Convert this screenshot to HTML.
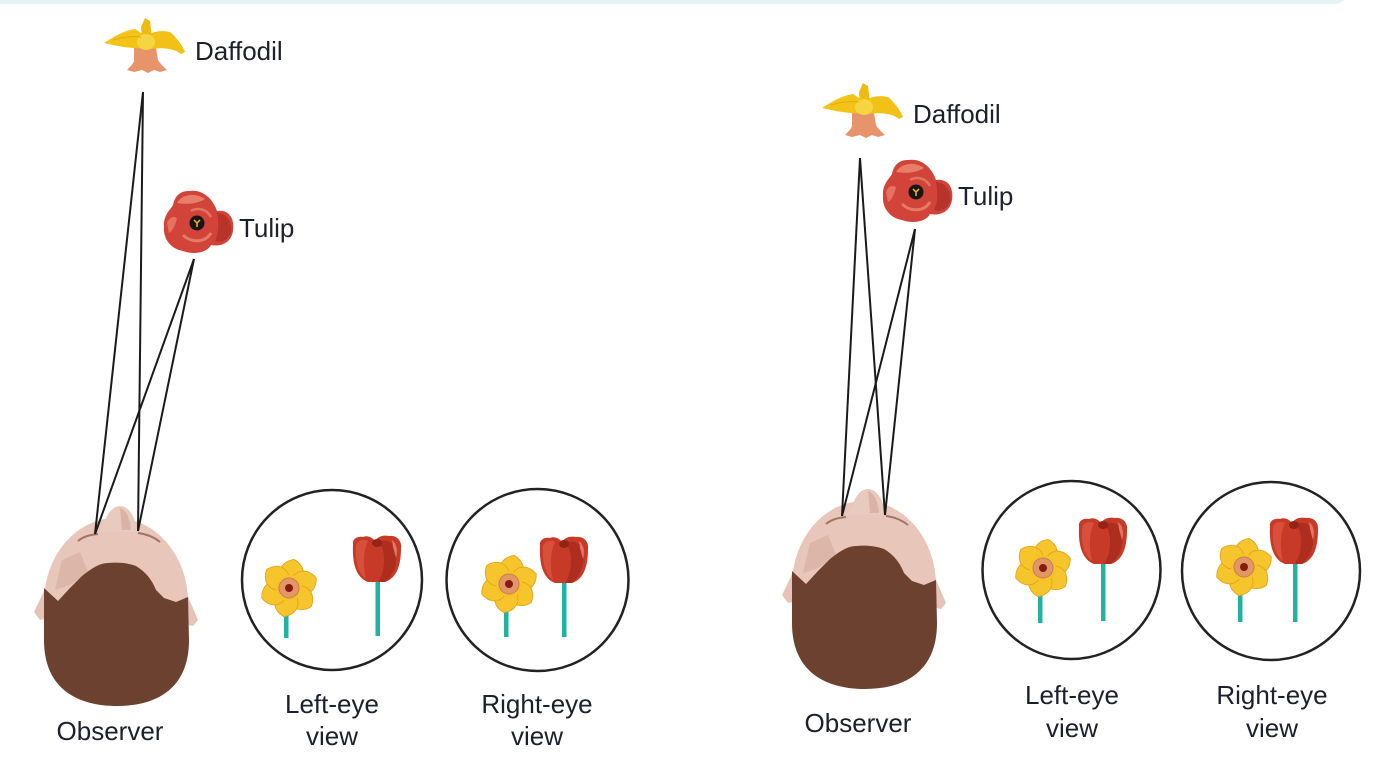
<!DOCTYPE html>
<html>
<head>
<meta charset="utf-8">
<style>
  html,body{margin:0;padding:0;background:#fff;}
  svg{display:block;}
  text{font-family:"Liberation Sans", sans-serif; fill:#1e1f2c; font-size:26px;}
</style>
</head>
<body>
<svg width="1388" height="757" viewBox="0 0 1388 757" xmlns="http://www.w3.org/2000/svg">
  <defs>
    <g id="head">
      <path d="M47 585 L34 612 L40 620 L50 618 Z" fill="#e6c3b6"/>
      <path d="M186 592 L198 620 L193 626 L184 624 Z" fill="#e6c3b6"/>
      <ellipse cx="116" cy="602" rx="72" ry="84" fill="#e8c6b9"/>
      <path d="M120 506 C127 506 133 513 136 524 L140 532 L100 532 L104 524 C107 513 113 506 120 506 Z" fill="#e9cabe"/>
      <path d="M120 508 C126 510 130 518 131 530 L122 530 Z" fill="#d9b3a5"/>
      <path d="M62 560 L80 552 L88 572 L70 585 L55 590 Z" fill="#dcb6a8"/>
      <path d="M78 541 C84 536 90 535 98 534" stroke="#a07566" stroke-width="2" fill="none"/>
      <path d="M138 533 C146 534 154 537 160 542" stroke="#a07566" stroke-width="2" fill="none"/>
      <path d="M44 588 L58 601 L70 588 L82 576 C92 568 100 563 108 563 C118 562 128 563 136 566 C146 572 152 580 156 590 L164 598 L176 602 L188 597 L189 640 C189 690 155 706 117 706 C79 706 44 690 44 640 Z" fill="#6c4130"/>
    </g>

    <g id="dafF">
      <g fill="#f6c52b" stroke="#e3a41b" stroke-width="0.9">
        <path d="M0 0 C-16 -8 -15 -24 0 -29 C15 -24 16 -8 0 0 Z" transform="rotate(10)"/>
        <path d="M0 0 C-16 -8 -15 -24 0 -29 C15 -24 16 -8 0 0 Z" transform="rotate(70)"/>
        <path d="M0 0 C-16 -8 -15 -24 0 -29 C15 -24 16 -8 0 0 Z" transform="rotate(130)"/>
        <path d="M0 0 C-16 -8 -15 -24 0 -29 C15 -24 16 -8 0 0 Z" transform="rotate(190)"/>
        <path d="M0 0 C-16 -8 -15 -24 0 -29 C15 -24 16 -8 0 0 Z" transform="rotate(250)"/>
        <path d="M0 0 C-16 -8 -15 -24 0 -29 C15 -24 16 -8 0 0 Z" transform="rotate(310)"/>
      </g>
      <circle cx="0" cy="0" r="13" fill="#f4c22a"/>
      <circle cx="0" cy="0" r="10" fill="#e29766" stroke="#cf7c4b" stroke-width="1"/>
      <circle cx="0" cy="0" r="4" fill="#861b0f"/>
    </g>

    <g id="tulF">
      <path d="M3 10 C2 4 7 1 13 2 C17 0 22 2 25 6 C28 1 34 0 39 1 C46 0 52 5 51 13 C51 30 47 43 35 47 L18 47 C7 43 2 30 3 10 Z" fill="#c83a28"/>
      <path d="M26 7 C34 4 44 6 46 14 C48 28 44 40 35 47 L28 47 C34 38 36 24 32 12 Z" fill="#ad2e1f"/>
      <path d="M6 10 C8 5 14 4 18 6 C14 14 12 28 16 44 C8 38 5 26 6 10 Z" fill="#d9503a"/>
      <ellipse cx="27" cy="8" rx="5" ry="4" fill="#962416"/>
      <path d="M42 5 C47 9 48 16 46 23 L43 12 Z" fill="#e27563"/>
    </g>

    <g id="tulT">
      <path d="M-8 -32 C6 -34 16 -24 20 -12 C32 -14 38 -4 36 8 C34 20 24 24 14 22 C10 30 -4 32 -14 28 C-26 26 -34 16 -33 4 C-34 -8 -26 -14 -24 -18 C-22 -28 -16 -32 -8 -32 Z" fill="#d2443a"/>
      <path d="M-20 -20 C-14 -30 0 -30 8 -24 C2 -20 -8 -18 -20 -20 Z" fill="#e77e6a"/>
      <path d="M-30 0 C-28 -6 -22 -8 -20 -4 C-22 2 -24 8 -28 10 Z" fill="#e3735f"/>
      <path d="M-14 12 C-6 20 8 20 14 10" stroke="#e57b66" stroke-width="3" fill="none"/>
      <path d="M20 -10 C30 -10 36 0 34 10 C30 18 24 20 18 18 C22 10 22 0 20 -10 Z" fill="#b8332a"/>
      <path d="M-6 -12 C0 -16 10 -14 14 -6" stroke="#e27462" stroke-width="2.5" fill="none"/>
      <circle cx="0" cy="0" r="7.5" fill="#1b1414"/>
      <path d="M0 0 L-3 -3 M0 0 L3 -3 M0 0 L0 4" stroke="#e8c020" stroke-width="1.5"/>
    </g>

    <g id="dafT">
      <path d="M29 30 L51 30 L53 42 C56 47 60 50 62 52 L55 54 L49 52 L43 55 L37 52 L29 54 L22 52 C26 48 29 45 29 42 Z" fill="#e8946a"/>
      <path d="M-1 25 C10 18 18 13 30 11 L42 19 L40 30 C30 31 16 29 -1 25 Z" fill="#f4c318"/>
      <path d="M40 19 C48 13 56 12 65 14 C72 20 77 27 80 34 L76 36 C70 31 60 29 46 31 Z" fill="#f2c016"/>
      <path d="M40 0 L45 3 L47 19 L37 21 L36 9 Z" fill="#eebb10"/>
      <ellipse cx="41" cy="24" rx="9" ry="8" fill="#f6d545"/>
      <path d="M8 22 C18 19 26 18 36 19" stroke="#e0a80e" stroke-width="1" fill="none"/>
    </g>
  </defs>

  <rect x="-20" y="-30" width="1367" height="34" rx="12" fill="#e7f4f4"/>

  <!-- LEFT PANEL -->
  <use href="#dafT" x="105" y="18"/>
  <text x="195" y="60">Daffodil</text>
  <use href="#tulT" x="197" y="223"/>
  <text x="239" y="237">Tulip</text>

  <use href="#head"/>

  <g stroke="#1a1a1a" stroke-width="2" fill="none">
    <line x1="143" y1="92" x2="95" y2="534"/>
    <line x1="143" y1="92" x2="138" y2="531"/>
    <line x1="194" y1="259" x2="95" y2="534"/>
    <line x1="194" y1="259" x2="138" y2="531"/>
  </g>

  <text x="110" y="740" text-anchor="middle">Observer</text>

  <circle cx="332" cy="580" r="90" fill="none" stroke="#222" stroke-width="2.5"/>
  <circle cx="537.5" cy="580" r="91" fill="none" stroke="#222" stroke-width="2.5"/>

  <rect x="284" y="598" width="4.5" height="40" fill="#1fb3a0"/>
  <use href="#dafF" x="289" y="588"/>
  <rect x="375.5" y="578" width="4.5" height="58" fill="#1fb3a0"/>
  <use href="#tulF" x="350" y="535"/>

  <rect x="504" y="596" width="4.5" height="41" fill="#1fb3a0"/>
  <use href="#dafF" x="509" y="584"/>
  <rect x="562" y="578" width="4.5" height="59" fill="#1fb3a0"/>
  <use href="#tulF" x="537" y="536"/>

  <text x="332" y="713" text-anchor="middle">Left-eye</text>
  <text x="332" y="745" text-anchor="middle">view</text>
  <text x="537" y="713" text-anchor="middle">Right-eye</text>
  <text x="537" y="745" text-anchor="middle">view</text>

  <!-- RIGHT PANEL -->
  <use href="#dafT" x="823" y="83"/>
  <text x="913" y="123">Daffodil</text>
  <use href="#tulT" x="916" y="192"/>
  <text x="958" y="205">Tulip</text>

  <use href="#head" transform="translate(748,-17)"/>

  <g stroke="#1a1a1a" stroke-width="2" fill="none">
    <line x1="860" y1="158" x2="842" y2="516"/>
    <line x1="860" y1="158" x2="885" y2="515"/>
    <line x1="915" y1="229" x2="842" y2="516"/>
    <line x1="915" y1="229" x2="885" y2="515"/>
  </g>

  <text x="858" y="732" text-anchor="middle">Observer</text>

  <circle cx="1071.5" cy="570" r="89" fill="none" stroke="#222" stroke-width="2.5"/>
  <circle cx="1271" cy="571" r="89" fill="none" stroke="#222" stroke-width="2.5"/>

  <rect x="1038" y="580" width="4.5" height="43" fill="#1fb3a0"/>
  <use href="#dafF" x="1043" y="568"/>
  <rect x="1101" y="560" width="4.5" height="61" fill="#1fb3a0"/>
  <use href="#tulF" x="1076" y="517"/>

  <rect x="1238" y="580" width="4.5" height="42" fill="#1fb3a0"/>
  <use href="#dafF" x="1244" y="567"/>
  <rect x="1293" y="560" width="4.5" height="62" fill="#1fb3a0"/>
  <use href="#tulF" x="1267" y="517"/>

  <text x="1072" y="704" text-anchor="middle">Left-eye</text>
  <text x="1072" y="737" text-anchor="middle">view</text>
  <text x="1272" y="704" text-anchor="middle">Right-eye</text>
  <text x="1272" y="737" text-anchor="middle">view</text>
</svg>
</body>
</html>
